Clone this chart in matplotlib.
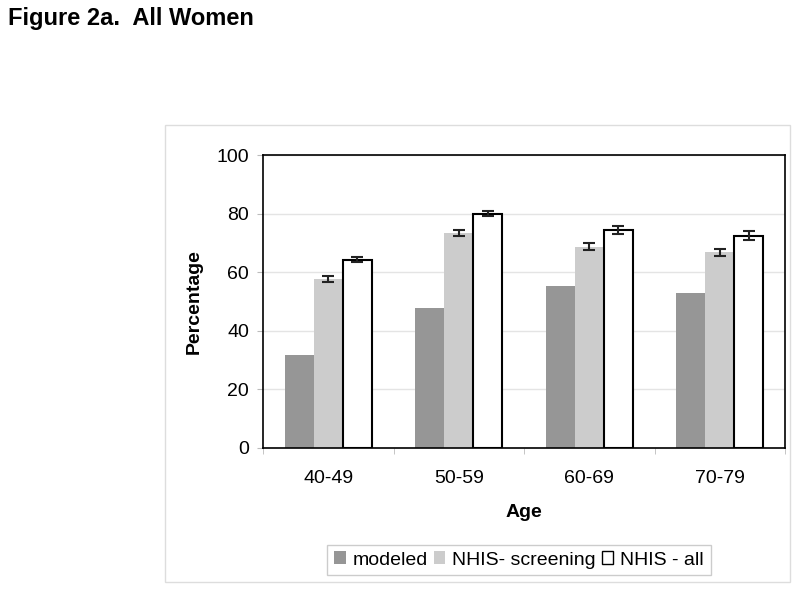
import numpy as np
import matplotlib.pyplot as plt
from matplotlib.patches import Rectangle

plt.rcParams['font.family'] = ['Liberation Sans', 'DejaVu Sans']

ages = ['40-49', '50-59', '60-69', '70-79']
modeled = [31.6, 47.8, 55.3, 52.9]
screening = [57.6, 73.4, 68.7, 66.8]
screening_err = [1.0, 1.0, 1.25, 1.2]
nhis_all = [64.3, 80.0, 74.4, 72.4]
nhis_all_err = [0.9, 0.9, 1.25, 1.5]

fig = plt.figure(figsize=(8, 5.92), dpi=100, facecolor='white')
ax = fig.add_axes([263 / 800, 1 - 448 / 592, (785 - 263) / 800, (448 - 155) / 592])

# outer chart area border
fig.patches.append(Rectangle((165 / 800, 1 - 582 / 592), 625 / 800, 457 / 592,
                             transform=fig.transFigure, fill=False,
                             edgecolor='#dddddd', linewidth=1))

x = np.arange(len(ages))
w = 0.222
ax.bar(x - w, modeled, w, color='#969696', label='modeled', zorder=2)
ax.bar(x, screening, w, color='#cccccc', label='NHIS- screening', zorder=2)
ax.bar(x + w, nhis_all, w, color='white', edgecolor='black', linewidth=1.5,
       label='NHIS - all', zorder=2)
ax.errorbar(x, screening, yerr=screening_err, fmt='none', ecolor='#222222',
            elinewidth=1.5, capsize=4, capthick=1.5, zorder=3)
ax.errorbar(x + w, nhis_all, yerr=nhis_all_err, fmt='none', ecolor='#222222',
            elinewidth=1.5, capsize=4, capthick=1.5, zorder=3)

ax.set_xlim(-0.5, 3.5)
ax.set_ylim(0, 100)
ax.set_yticks([0, 20, 40, 60, 80, 100])
ax.yaxis.grid(True, color='#e4e4e4', linewidth=1, zorder=0)
ax.set_axisbelow(True)
ax.set_xticks(x)
ax.set_xticklabels(ages)
ax.set_xticks(np.arange(-0.5, 4, 1), minor=True)
ax.tick_params(axis='x', which='major', length=0, pad=16, labelsize=14)
ax.tick_params(axis='x', which='minor', length=4, color='#bbbbbb', direction='out')
ax.tick_params(axis='y', length=4, color='#bbbbbb', direction='out', pad=6, labelsize=14)
for s in ax.spines.values():
    s.set_linewidth(1.2)
    s.set_color('black')

ax.set_ylabel('Percentage', fontsize=14, fontweight='bold', labelpad=10)
ax.set_xlabel('Age', fontsize=14, fontweight='bold', labelpad=12)

fig.text(8 / 800, 1 - 18 / 592, 'Figure 2a.  All Women', fontsize=17,
         fontweight='bold', ha='left', va='center')

leg = fig.legend(loc='center', bbox_to_anchor=(519 / 800, 1 - 560 / 592), ncol=3,
                 fontsize=14, handlelength=0.6, handleheight=0.6, handletextpad=0.35,
                 columnspacing=0.3, fancybox=False, edgecolor='#cccccc',
                 borderpad=0.35, framealpha=1)
leg.get_frame().set_linewidth(1)
for h in leg.legend_handles:
    h.set_linewidth(1)

plt.savefig('out.png', dpi=100, facecolor='white')
